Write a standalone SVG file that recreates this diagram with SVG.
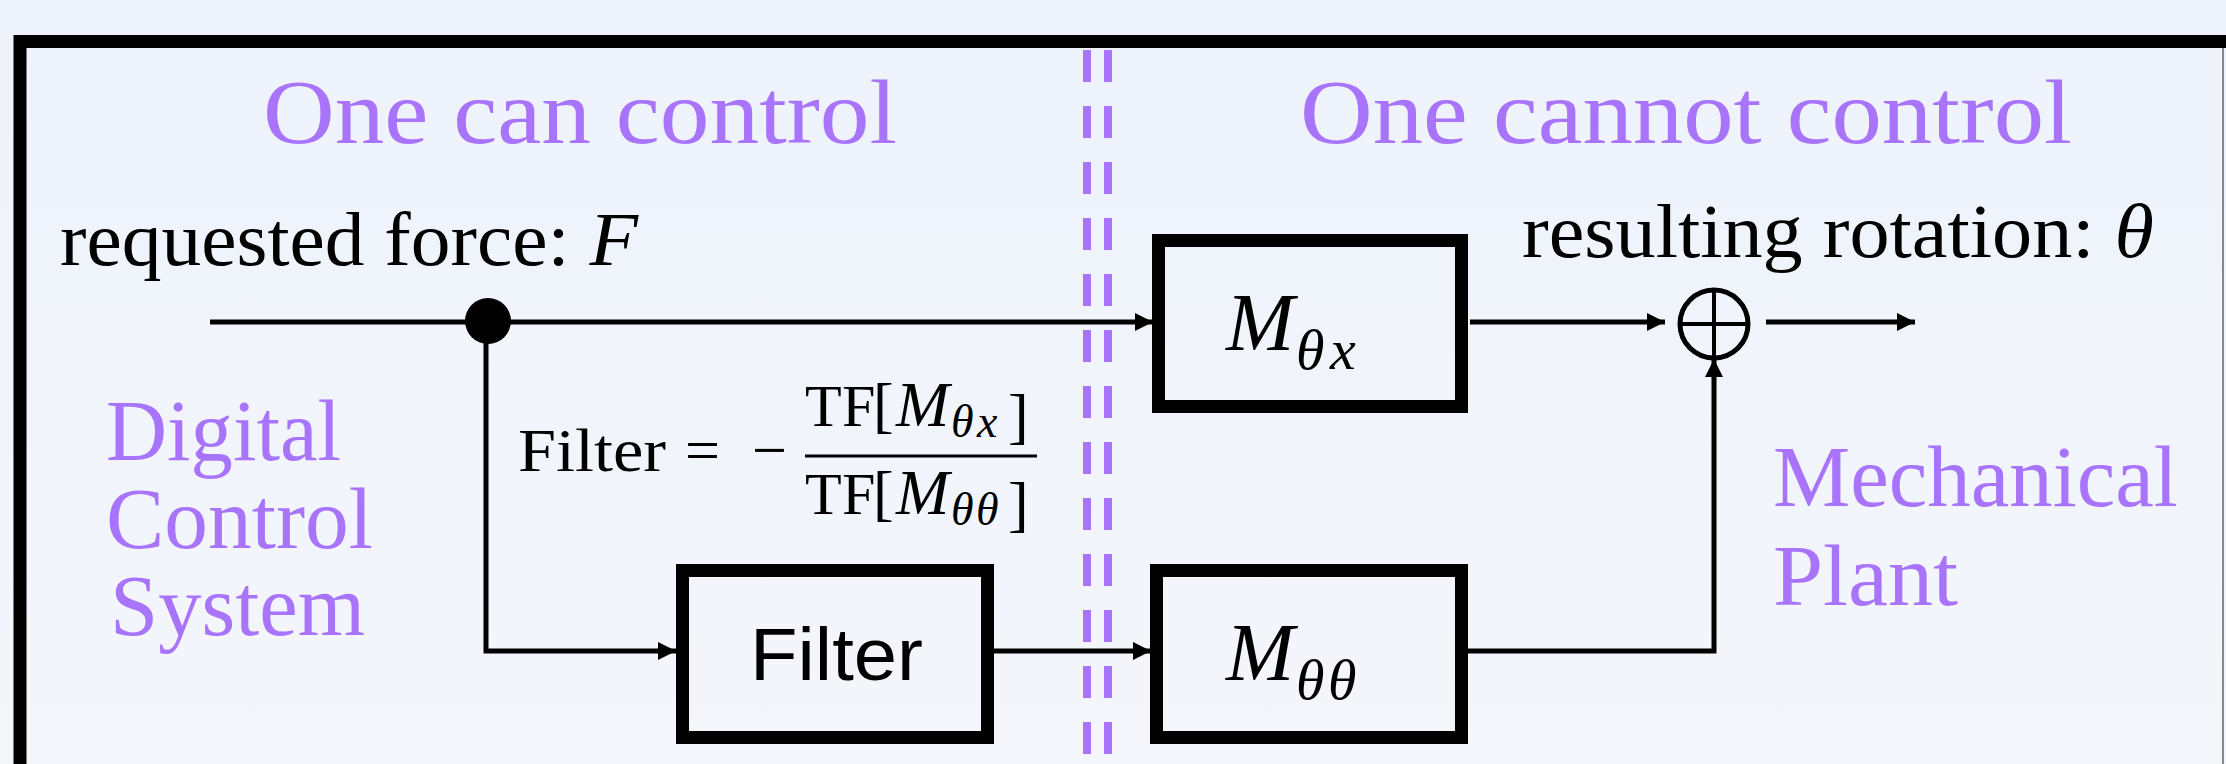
<svg xmlns="http://www.w3.org/2000/svg" width="2226" height="764" viewBox="0 0 2226 764">
<defs>
<linearGradient id="bg" x1="0" y1="0" x2="0" y2="1">
<stop offset="0" stop-color="#eef2fb"/>
<stop offset="1" stop-color="#f4f6fb"/>
</linearGradient>
<marker id="arr" markerUnits="userSpaceOnUse" markerWidth="18" markerHeight="18" viewBox="0 0 16 16" refX="16" refY="8" orient="auto">
<path d="M0,0 L16,8 L0,16 Z" fill="#000"/>
</marker>
</defs>
<style>
.purple{font-family:"Liberation Serif","DejaVu Serif",serif;fill:#a874fb;font-size:92px}
.side{font-size:86px}
.lbl{font-family:"Liberation Serif","DejaVu Serif",serif;fill:#000;font-size:76px}
.math{font-family:"Liberation Serif","DejaVu Serif",serif;fill:#000;font-size:62px}
.it{font-style:italic}
.box{fill:none;stroke:#000;stroke-width:13}
.wire{fill:none;stroke:#000;stroke-width:5}
.dash{stroke:#a874fb;stroke-width:8;stroke-dasharray:32 24}
.sans{font-family:"Liberation Sans","Arial",sans-serif;fill:#000;font-size:74px}
</style>
<rect x="0" y="0" width="2226" height="764" fill="url(#bg)"/>
<rect x="20" y="41.5" width="2300" height="800" fill="none" stroke="#000" stroke-width="13"/>
<line x1="2223" y1="48" x2="2223" y2="764" stroke="#666" stroke-width="1.5"/>

<g id="divider">
<line class="dash" x1="1087" y1="50" x2="1087" y2="764"/>
<line class="dash" x1="1108" y1="50" x2="1108" y2="764"/>
</g>

<g id="labels">
<text class="purple" x="263" y="143" textLength="634" lengthAdjust="spacingAndGlyphs">One can control</text>
<text class="purple" x="1300" y="143" textLength="772" lengthAdjust="spacingAndGlyphs">One cannot control</text>
<text class="purple side" x="106" y="460" textLength="235" lengthAdjust="spacingAndGlyphs">Digital</text>
<text class="purple side" x="106" y="548" textLength="267" lengthAdjust="spacingAndGlyphs">Control</text>
<text class="purple side" x="110" y="635" textLength="255" lengthAdjust="spacingAndGlyphs">System</text>
<text class="purple side" x="1773" y="506" textLength="405" lengthAdjust="spacingAndGlyphs">Mechanical</text>
<text class="purple side" x="1773" y="605" textLength="185" lengthAdjust="spacingAndGlyphs">Plant</text>
<text class="lbl" x="60" y="265" textLength="578" lengthAdjust="spacingAndGlyphs">requested force: <tspan class="it">F</tspan></text>
<text class="lbl" x="1522" y="257" textLength="632" lengthAdjust="spacingAndGlyphs">resulting rotation: <tspan class="it">θ</tspan></text>
</g>

<g id="formula">
<text class="math" x="518" y="471" textLength="148" lengthAdjust="spacingAndGlyphs">Filter</text>
<text class="math" x="685" y="471">=</text>
<text class="math" x="752" y="471">−</text>
<line x1="805" y1="456" x2="1037" y2="456" stroke="#000" stroke-width="3"/>
<text class="math" y="426"><tspan x="805 842" font-size="60">TF</tspan><tspan x="873">[</tspan><tspan class="it" x="896" font-size="64">M</tspan><tspan class="it" x="951 977" y="437" font-size="46">θx</tspan><tspan x="1008">]</tspan></text>
<text class="math" y="514"><tspan x="805 842" font-size="60">TF</tspan><tspan x="873">[</tspan><tspan class="it" x="896" font-size="64">M</tspan><tspan class="it" x="951 976" y="525" font-size="46">θθ</tspan><tspan x="1008">]</tspan></text>
</g>

<g id="connectors">
<line class="wire" x1="210" y1="322" x2="1153" y2="322" marker-end="url(#arr)"/>
<polyline class="wire" points="486,322 486,651 676,651" stroke-width="4.5" marker-end="url(#arr)"/>
<line class="wire" x1="994" y1="651" x2="1151" y2="651" marker-end="url(#arr)"/>
<line class="wire" x1="1470" y1="322" x2="1665" y2="322" marker-end="url(#arr)"/>
<polyline class="wire" points="1468,651 1714,651 1714,359" marker-end="url(#arr)"/>
<line class="wire" x1="1766" y1="322" x2="1915" y2="322" marker-end="url(#arr)"/>
</g>

<g id="split">
<circle cx="488" cy="321" r="23" fill="#000"/>
</g>

<g id="sum">
<circle cx="1714" cy="324" r="34" fill="none" stroke="#000" stroke-width="5"/>
<line x1="1680" y1="324" x2="1748" y2="324" stroke="#000" stroke-width="4"/>
<line x1="1714" y1="290" x2="1714" y2="358" stroke="#000" stroke-width="4"/>
</g>

<g id="filter">
<rect class="box" x="682.5" y="570.5" width="305" height="167"/>
<text class="sans" x="750" y="680" textLength="173" lengthAdjust="spacingAndGlyphs">Filter</text>
</g>

<g id="m-theta-x">
<rect class="box" x="1158.5" y="240.5" width="303" height="166"/>
<text class="math" y="350"><tspan class="it" x="1226" font-size="82">M</tspan><tspan class="it" x="1296 1330" y="369" font-size="58">θx</tspan></text>
</g>

<g id="m-theta-theta">
<rect class="box" x="1156.5" y="570.5" width="305" height="167"/>
<text class="math" y="680"><tspan class="it" x="1226" font-size="82">M</tspan><tspan class="it" x="1296 1328" y="699" font-size="58">θθ</tspan></text>
</g>
</svg>
